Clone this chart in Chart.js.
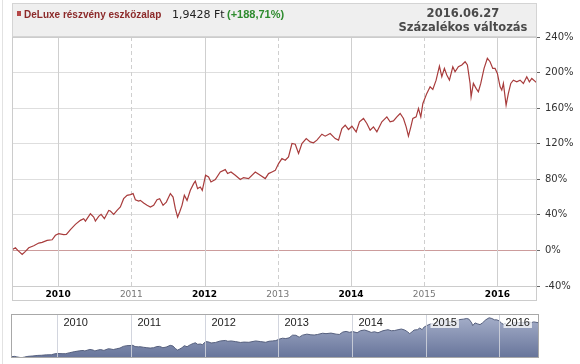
<!DOCTYPE html>
<html>
<head>
<meta charset="utf-8">
<script src="https://cdn.jsdelivr.net/npm/chart.js@4.4.0/dist/chart.umd.min.js"></script>
<style>
  html, body { margin: 0; padding: 0; background: #fff; }
  #wrap { position: relative; width: 580px; height: 364px; }
  #main { position: absolute; left: 0; top: 0; }
  #nav { position: absolute; left: 0; top: 305px; }
</style>
</head>
<body>
<div id="wrap">
  <canvas id="main" width="580" height="305"></canvas>
  <canvas id="nav" width="580" height="59"></canvas>
</div>
<script>
// dates as decimal years
const dates = [
  2009.372, 2009.417, 2009.449, 2009.509, 2009.554, 2009.599, 2009.667, 2009.735, 2009.782, 2009.850,
  2009.918, 2009.963, 2010.008, 2010.076, 2010.113, 2010.168, 2010.236, 2010.304, 2010.349, 2010.373,
  2010.441, 2010.486, 2010.509, 2010.554, 2010.587, 2010.632, 2010.691, 2010.714, 2010.759, 2010.805,
  2010.850, 2010.895, 2010.942, 2010.987, 2011.024, 2011.055, 2011.100, 2011.123, 2011.168, 2011.215,
  2011.260, 2011.305, 2011.351, 2011.387, 2011.433, 2011.478, 2011.533, 2011.570, 2011.601, 2011.632,
  2011.660, 2011.692, 2011.724, 2011.761, 2011.806, 2011.851, 2011.874, 2011.905, 2011.942, 2011.969,
  2012.014, 2012.055, 2012.088, 2012.147, 2012.215, 2012.283, 2012.315, 2012.361, 2012.420, 2012.488,
  2012.533, 2012.601, 2012.693, 2012.761, 2012.829, 2012.874, 2012.921, 2012.966, 2013.011, 2013.057,
  2013.102, 2013.147, 2013.194, 2013.239, 2013.284, 2013.330, 2013.389, 2013.443, 2013.488, 2013.535,
  2013.603, 2013.648, 2013.716, 2013.785, 2013.830, 2013.876, 2013.921, 2013.966, 2014.013, 2014.071,
  2014.116, 2014.171, 2014.217, 2014.262, 2014.307, 2014.354, 2014.422, 2014.490, 2014.535, 2014.580,
  2014.627, 2014.672, 2014.717, 2014.754, 2014.785, 2014.818, 2014.845, 2014.890, 2014.922, 2014.954,
  2014.982, 2015.036, 2015.081, 2015.118, 2015.163, 2015.208, 2015.241, 2015.276, 2015.309, 2015.345,
  2015.391, 2015.422, 2015.467, 2015.514, 2015.559, 2015.590, 2015.627, 2015.641, 2015.672, 2015.709,
  2015.740, 2015.773, 2015.818, 2015.863, 2015.900, 2015.937, 2015.968, 2016.000, 2016.037, 2016.060,
  2016.082, 2016.119, 2016.150, 2016.183, 2016.218, 2016.265, 2016.310, 2016.355, 2016.401, 2016.437,
  2016.470, 2016.535
];
// percentage change
const change = [
  0.8, 3, 0, -4.5, -1, 3, 5.3, 8.3, 9, 11.3,
  12, 17, 18.8, 17.7, 18, 23.3, 29.3, 33.8, 35.7, 33,
  41.3, 37.6, 33, 38.3, 40.6, 35.7, 45, 44.3, 40.6, 45,
  48.8, 58.2, 62, 62.8, 63.9, 57, 55.5, 56.3, 53.3, 50.7,
  48.8, 50.7, 57, 58.2, 50.7, 54.4, 63.9, 60, 47, 37.5,
  43.2, 50.7, 62, 56.3, 67.6, 75.1, 78, 69.5, 71.3, 67.6,
  84.5, 82.6, 77, 79.7, 88.2, 90.9, 86.4, 88.2, 84.5, 79.7,
  81.9, 80.8, 88.2, 84.5, 80.8, 86.4, 88.2, 90, 97.7, 103.3,
  101.4, 105.2, 120.2, 119.4, 109, 120.2, 125.8, 122, 121, 124,
  130.7, 128.5, 131.5, 125.8, 124, 137.1, 140.8, 136, 139.7, 133.3,
  144.6, 148.4, 142.7, 135.2, 138.9, 133.3, 144.6, 150.2, 144.6, 145.7,
  150.2, 154, 148.4, 139, 128.5, 139, 148.4, 150.2, 159.7, 150.2,
  165.3, 176.6, 184, 181.1, 191.5, 207.3, 195.3, 204.7, 197.2, 191.5,
  206.5, 200.9, 206.5, 208.5, 212.2, 208.5, 187.8, 172.7, 187.8, 182.2,
  178.4, 187.8, 204.7, 216, 212.2, 204.7, 204.7, 199.1, 184, 180.3,
  187.8, 163.4, 176.6, 187.8, 191.5, 189.6, 191.5, 187.8, 195.3, 189.6,
  193.4, 188.7
];
const years = [2010, 2011, 2012, 2013, 2014, 2015, 2016];
const yMin = -40, yMax = 240, yStep = 40;
const xMin = 2009.37, xMax = 2016.541;

const title = "DeLuxe részvény eszközalap";
const price = "1,9428 Ft";
const perf = "(+188,71%)";
const dateLabel = "2016.06.27";
const modeLabel = "Százalékos változás";

const points = dates.map((d, i) => ({ x: d, y: change[i] }));

const mainFrame = {
  id: "mainFrame",
  beforeDraw(chart) {
    const c = chart.ctx;
    c.save();
    c.fillStyle = "#fff";
    c.fillRect(0, 0, chart.width, chart.height);
    // page edge
    c.strokeStyle = "#e2e2e2";
    c.beginPath(); c.moveTo(2.5, 0); c.lineTo(2.5, chart.height); c.stroke();
    // header band
    c.fillStyle = "#efefef";
    c.fillRect(12, 3, 525, 34);
    c.strokeStyle = "#d4d4d4";
    c.strokeRect(12.5, 3.5, 524, 33);
    c.restore();
  },
  beforeDatasetsDraw(chart) {
    const c = chart.ctx, a = chart.chartArea, xs = chart.scales.x;
    c.save();
    c.strokeStyle = "#cfcfcf";
    c.lineWidth = 1;
    years.forEach(y => {
      const px = Math.round(xs.getPixelForValue(y)) + 0.5;
      c.setLineDash(y % 2 ? [4, 3] : []);
      c.beginPath(); c.moveTo(px, a.top); c.lineTo(px, a.bottom); c.stroke();
    });
    c.restore();
  },
  afterDraw(chart) {
    const c = chart.ctx, a = chart.chartArea;
    c.save();
    c.strokeStyle = "#cccccc";
    c.lineWidth = 1;
    c.strokeRect(a.left + 0.5, a.top + 0.5, a.right - a.left - 1, 301 - a.top - 1);
    c.beginPath(); c.moveTo(a.left, a.bottom + 0.5); c.lineTo(a.right, a.bottom + 0.5); c.stroke();
    // header texts
    c.fillStyle = "#b54848";
    c.fillRect(17, 11, 4, 5);
    c.textBaseline = "alphabetic";
    c.font = 'bold 10px "Liberation Sans"';
    c.fillStyle = "#8c2a2a";
    c.fillText(title, 24, 18);
    c.font = '11px "DejaVu Sans"';
    c.fillStyle = "#222";
    c.fillText(price, 172, 18);
    c.font = 'bold 11px "Liberation Sans"';
    c.fillStyle = "#2e8b2e";
    c.fillText(perf, 227, 18);
    c.font = 'bold 11.5px "DejaVu Sans"';
    c.fillStyle = "#4a4a4a";
    c.textAlign = "center";
    c.fillText(dateLabel, 463, 17);
    c.fillText(modeLabel, 463, 31);
    c.restore();
  }
};

new Chart(document.getElementById("main"), {
  type: "line",
  data: {
    datasets: [{
      data: points,
      borderColor: "#a83c3c",
      borderWidth: 1.2,
      pointRadius: 0,
      tension: 0,
      fill: false
    }]
  },
  options: {
    responsive: false,
    animation: false,
    layout: { padding: { left: 12, top: 37, right: 0, bottom: 4 } },
    plugins: { legend: { display: false }, tooltip: { enabled: false } },
    scales: {
      x: {
        type: "linear",
        min: xMin,
        max: xMax,
        afterBuildTicks: s => { s.ticks = years.map(v => ({ value: v })); },
        afterFit: s => { s.height = 15; },
        grid: { display: false, drawTicks: false },
        border: { display: false },
        ticks: {
          autoSkip: false,
          maxRotation: 0,
          padding: 3,
          callback: v => String(v),
          color: ctx => (ctx.tick && ctx.tick.value % 2) ? "#777" : "#000",
          font: ctx => (ctx.tick && ctx.tick.value % 2)
            ? { family: "DejaVu Sans", size: 9 }
            : { family: "DejaVu Sans", size: 9, weight: "bold" }
        }
      },
      y: {
        position: "right",
        min: yMin,
        max: yMax,
        afterFit: s => { s.width = 43; },
        border: { display: false },
        grid: {
          color: ctx => ctx.tick && ctx.tick.value === 0 ? "#cc9c9c" : "#dedede",
          tickColor: "#666",
          tickLength: 3
        },
        ticks: {
          stepSize: yStep,
          padding: 5,
          color: "#333",
          font: { family: "DejaVu Sans", size: 10 },
          callback: v => v + "%"
        }
      }
    }
  },
  plugins: [mainFrame]
});

const navDeco = {
  id: "navDeco",
  beforeDraw(chart) {
    const c = chart.ctx;
    c.save();
    c.fillStyle = "#fff";
    c.fillRect(0, 0, chart.width, chart.height);
    c.strokeStyle = "#e2e2e2";
    c.beginPath(); c.moveTo(2.5, 0); c.lineTo(2.5, chart.height); c.stroke();
    c.restore();
  },
  afterDatasetsDraw(chart) {
    const c = chart.ctx, a = chart.chartArea, xs = chart.scales.x;
    c.save();
    c.strokeStyle = "rgba(205,208,218,0.9)";
    c.lineWidth = 1;
    c.font = '11px "Liberation Sans"';
    c.textBaseline = "middle";
    years.forEach(y => {
      const px = Math.round(xs.getPixelForValue(y)) + 0.5;
      c.beginPath(); c.moveTo(px, a.top); c.lineTo(px, a.bottom); c.stroke();
      const w = c.measureText(String(y)).width;
      c.fillStyle = "rgba(255,255,255,0.75)";
      c.fillRect(px + 4, a.top + 4, w + 4, 10);
      c.fillStyle = "#222";
      c.fillText(String(y), px + 6, a.top + 9);
    });
    c.strokeStyle = "#a8a8a8";
    c.strokeRect(a.left + 0.5, a.top + 0.5, a.right - a.left - 1, a.bottom - a.top - 1);
    c.restore();
  }
};

new Chart(document.getElementById("nav"), {
  type: "line",
  data: {
    datasets: [{
      data: points,
      borderColor: "#56607e",
      borderWidth: 1,
      pointRadius: 0,
      tension: 0,
      fill: "start",
      backgroundColor: ctx => {
        const a = ctx.chart.chartArea;
        if (!a) return "#8a95b4";
        const g = ctx.chart.ctx.createLinearGradient(0, a.top, 0, a.bottom);
        g.addColorStop(0, "#a9b2cc");
        g.addColorStop(1, "#67749a");
        return g;
      }
    }]
  },
  options: {
    responsive: false,
    animation: false,
    layout: { padding: { left: 11, top: 9, right: 41, bottom: 6 } },
    plugins: { legend: { display: false }, tooltip: { enabled: false } },
    scales: {
      x: { type: "linear", min: xMin, max: xMax, display: false },
      y: { min: -6, max: 237, display: false }
    }
  },
  plugins: [navDeco]
});
</script>
</body>
</html>
